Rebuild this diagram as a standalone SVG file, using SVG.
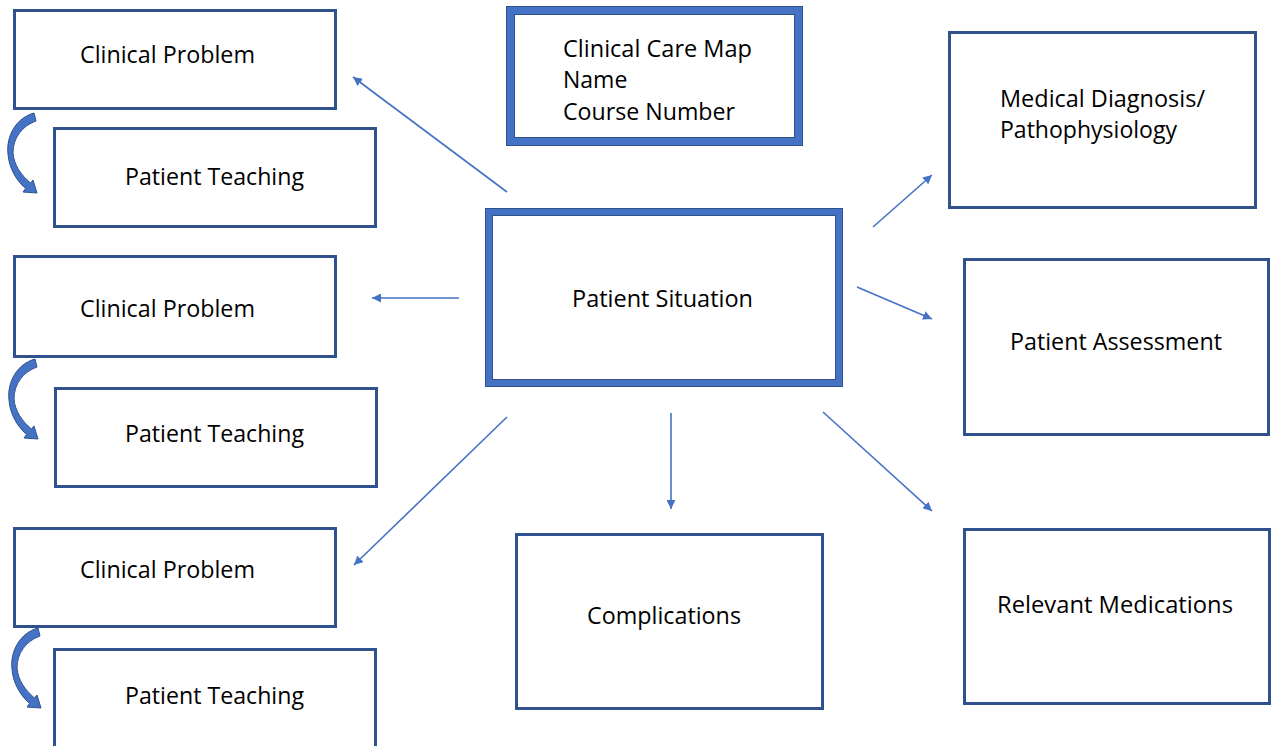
<svg xmlns="http://www.w3.org/2000/svg" xmlns:xlink="http://www.w3.org/1999/xlink" width="1272" height="746" viewBox="0 0 1272 746">
  <style>
    .box { fill: #ffffff; stroke: #2F528F; stroke-width: 3; }
    .thick { fill: none; stroke: #4472C4; }
    .edge { fill: none; stroke: #2F528F; stroke-width: 1; }
    .label { font-family: "Open Sans", "Noto Sans", "Liberation Sans", sans-serif; font-size: 23px; fill: #000000; }
    .conn { stroke: #4472C4; stroke-width: 1.6; fill: none; marker-end: url(#arrow); }
    .curved { fill: #4472C4; stroke: #2F528F; stroke-width: 1; }
  </style>
  <defs>
    <marker id="arrow" markerUnits="userSpaceOnUse" markerWidth="10" markerHeight="9" refX="9" refY="4.5" orient="auto">
      <path d="M0,0 L9,4.5 L0,9 Z" fill="#4472C4"/>
    </marker>
    <path id="curvedArrow" class="curved" d="M34,113 C16,118 6,136 8,154 C9,168 16,180 25.5,188.5 L23,192 L37,193 L33,180 L30.5,183 C21,175 14,165 13,153 C13,138 22,126 36,121 Z"/>
  </defs>
  <rect width="1272" height="746" fill="#ffffff"/>

  <g id="connectors">
    <line class="conn" x1="507" y1="192" x2="353" y2="77"/>
    <line class="conn" x1="459" y1="298" x2="372" y2="298"/>
    <line class="conn" x1="507" y1="417" x2="354" y2="565"/>
    <line class="conn" x1="671" y1="413" x2="671" y2="509"/>
    <line class="conn" x1="823" y1="412" x2="932" y2="511"/>
    <line class="conn" x1="873" y1="227" x2="932" y2="175"/>
    <line class="conn" x1="857" y1="287" x2="932" y2="319"/>
    <use xlink:href="#curvedArrow" href="#curvedArrow"/>
    <use xlink:href="#curvedArrow" href="#curvedArrow" transform="translate(1,246)"/>
    <use xlink:href="#curvedArrow" href="#curvedArrow" transform="translate(4,515)"/>
  </g>

  <g id="title">
    <rect class="thick" x="510" y="10" width="289" height="132" stroke-width="8"/>
    <rect class="edge" x="506.5" y="6.5" width="296" height="139"/>
    <rect class="edge" x="514.5" y="14.5" width="280" height="123"/>
    <text class="label" x="563" y="57" textLength="189" lengthAdjust="spacingAndGlyphs">Clinical Care Map</text>
    <text class="label" x="563" y="88">Name</text>
    <text class="label" x="563" y="120" textLength="172" lengthAdjust="spacingAndGlyphs">Course Number</text>
  </g>

  <g id="patient-situation">
    <rect x="488.5" y="211.5" width="351" height="172" fill="#ffffff" stroke="#4472C4" stroke-width="7"/>
    <rect class="edge" x="485.5" y="208.5" width="357" height="178"/>
    <rect class="edge" x="492.5" y="215.5" width="343" height="164"/>
    <text class="label" x="572" y="307" textLength="181" lengthAdjust="spacingAndGlyphs">Patient Situation</text>
  </g>

  <g id="clinical-problem-1">
    <rect class="box" x="14.5" y="10.5" width="321" height="98"/>
    <text class="label" x="80" y="63" textLength="175" lengthAdjust="spacingAndGlyphs">Clinical Problem</text>
  </g>
  <g id="patient-teaching-1">
    <rect class="box" x="54.5" y="128.5" width="321" height="98"/>
    <text class="label" x="125" y="185" textLength="179" lengthAdjust="spacingAndGlyphs">Patient Teaching</text>
  </g>
  <g id="clinical-problem-2">
    <rect class="box" x="14.5" y="256.5" width="321" height="100"/>
    <text class="label" x="80" y="317" textLength="175" lengthAdjust="spacingAndGlyphs">Clinical Problem</text>
  </g>
  <g id="patient-teaching-2">
    <rect class="box" x="55.5" y="388.5" width="321" height="98"/>
    <text class="label" x="125" y="442" textLength="179" lengthAdjust="spacingAndGlyphs">Patient Teaching</text>
  </g>
  <g id="clinical-problem-3">
    <rect class="box" x="14.5" y="528.5" width="321" height="98"/>
    <text class="label" x="80" y="578" textLength="175" lengthAdjust="spacingAndGlyphs">Clinical Problem</text>
  </g>
  <g id="patient-teaching-3">
    <rect class="box" x="54.5" y="649.5" width="321" height="120"/>
    <text class="label" x="125" y="704" textLength="179" lengthAdjust="spacingAndGlyphs">Patient Teaching</text>
  </g>

  <g id="medical-diagnosis">
    <rect class="box" x="949.5" y="32.5" width="306" height="175"/>
    <text class="label" x="1000" y="107" textLength="205" lengthAdjust="spacingAndGlyphs">Medical Diagnosis/</text>
    <text class="label" x="1000" y="138" textLength="177" lengthAdjust="spacingAndGlyphs">Pathophysiology</text>
  </g>
  <g id="patient-assessment">
    <rect class="box" x="964.5" y="259.5" width="304" height="175"/>
    <text class="label" x="1010" y="350" textLength="212" lengthAdjust="spacingAndGlyphs">Patient Assessment</text>
  </g>
  <g id="complications">
    <rect class="box" x="516.5" y="534.5" width="306" height="174"/>
    <text class="label" x="587" y="624" textLength="154" lengthAdjust="spacingAndGlyphs">Complications</text>
  </g>
  <g id="relevant-medications">
    <rect class="box" x="964.5" y="529.5" width="305" height="174"/>
    <text class="label" x="997" y="613" textLength="236" lengthAdjust="spacingAndGlyphs">Relevant Medications</text>
  </g>
</svg>
